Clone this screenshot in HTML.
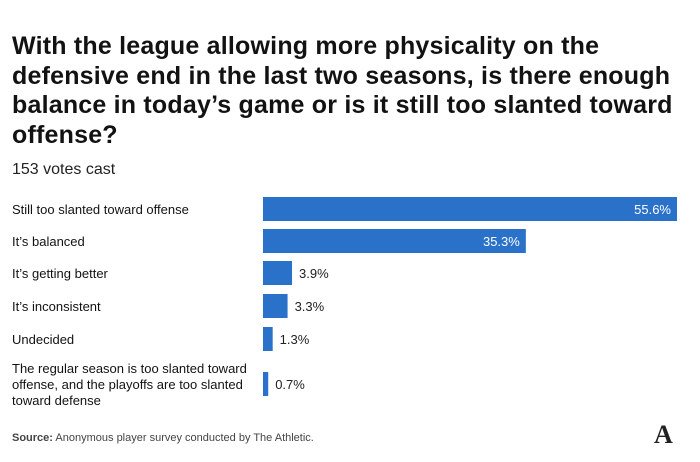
<!DOCTYPE html>
<html><head><meta charset="utf-8"><style>
body{margin:0;width:700px;height:462px;background:#fff;font-family:"Liberation Sans",sans-serif;position:relative;overflow:hidden;color:#121212}
h1{position:absolute;left:12px;top:32px;margin:0;width:690px;white-space:nowrap;font-size:25px;line-height:29.5px;font-weight:bold;letter-spacing:0.2px}
.sub{position:absolute;left:12px;top:161px;font-size:16px;color:#222}
.src{position:absolute;left:12px;top:432px;font-size:11px;color:#444}
.logo{position:absolute;left:654px;top:420px;font-family:"Liberation Serif",serif;font-weight:bold;font-size:26px;color:#222}
</style></head><body>
<h1>With the league allowing more physicality on the<br>defensive end in the last two seasons, is there enough<br>balance in today’s game or is it still too slanted toward<br>offense?</h1>
<div class="sub">153 votes cast</div>
<svg id="chart" width="700" height="462" style="position:absolute;left:0;top:0"></svg>
<div class="src"><b>Source:</b> Anonymous player survey conducted by The Athletic.</div>
<div class="logo">A</div>
<script>
const categories=[["Still too slanted toward offense"],["It’s balanced"],["It’s getting better"],["It’s inconsistent"],["Undecided"],["The regular season is too slanted toward","offense, and the playoffs are too slanted","toward defense"]];
const values=[55.6,35.3,3.9,3.3,1.3,0.7];
const centers=[209,241,273,306,339,384];
const svg=document.getElementById('chart');
const NS='http://www.w3.org/2000/svg';
const x0=263,scale=414/55.6;
function xs(v){return v*scale;}
categories.forEach((lines,i)=>{
  const cy=centers[i],w=Math.max(xs(values[i]),4);
  const r=document.createElementNS(NS,'rect');
  r.setAttribute('x',x0);r.setAttribute('y',cy-12);r.setAttribute('width',w);r.setAttribute('height',24);r.setAttribute('fill','#2a72c9');
  
  
  svg.appendChild(r);
  const t=document.createElementNS(NS,'text');
  const inside=values[i]>20;
  t.setAttribute('x',inside?x0+w-6:x0+w+7);t.setAttribute('y',cy+5);
  t.setAttribute('text-anchor',inside?'end':'start');
  t.setAttribute('font-size','13');t.setAttribute('fill',inside?'#fff':'#222');
  t.textContent=values[i].toFixed(1)+'%';
  
  
  svg.appendChild(t);
  const l=document.createElementNS(NS,'text');
  l.setAttribute('font-size','13');l.setAttribute('fill','#121212');
  const start=cy+5-(lines.length-1)*8;
  lines.forEach((s,j)=>{const ts=document.createElementNS(NS,'tspan');ts.setAttribute('x',12);ts.setAttribute('y',start+j*16);ts.textContent=s;l.appendChild(ts);});
  
  
  svg.appendChild(l);
});
</script>
</body></html>
